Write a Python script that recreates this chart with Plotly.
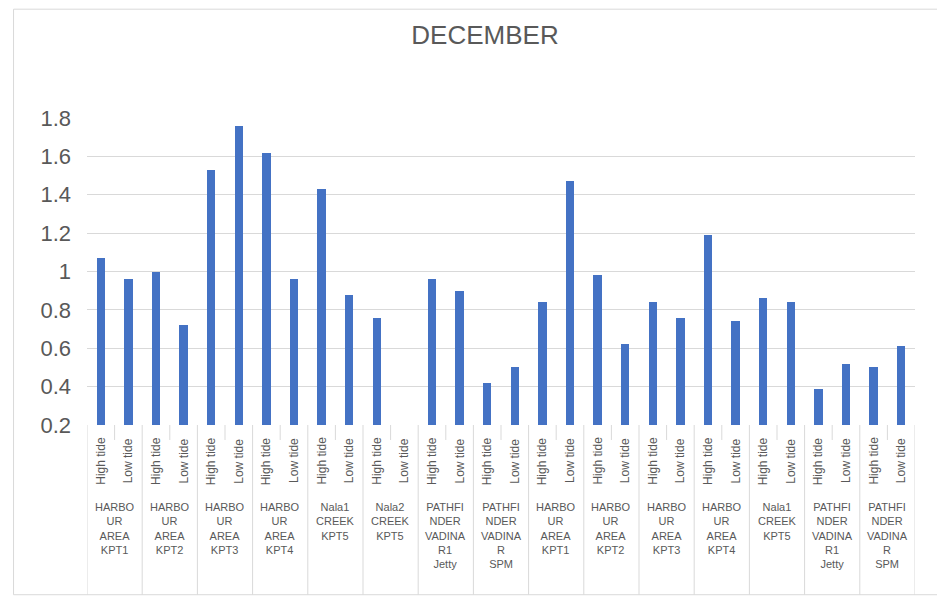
import plotly.graph_objects as go

groups = [
    "HARBO<br>UR<br>AREA<br>KPT1", "HARBO<br>UR<br>AREA<br>KPT2", "HARBO<br>UR<br>AREA<br>KPT3",
    "HARBO<br>UR<br>AREA<br>KPT4", "Nala1<br>CREEK<br>KPT5", "Nala2<br>CREEK<br>KPT5",
    "PATHFI<br>NDER<br>VADINA<br>R1<br>Jetty", "PATHFI<br>NDER<br>VADINA<br>R<br>SPM",
    "HARBO<br>UR<br>AREA<br>KPT1", "HARBO<br>UR<br>AREA<br>KPT2", "HARBO<br>UR<br>AREA<br>KPT3",
    "HARBO<br>UR<br>AREA<br>KPT4", "Nala1<br>CREEK<br>KPT5",
    "PATHFI<br>NDER<br>VADINA<br>R1<br>Jetty", "PATHFI<br>NDER<br>VADINA<br>R<br>SPM",
]
tides = ["High tide", "Low tide"]
high_tide = [1.07, 1.00, 1.53, 1.62, 1.43, 0.76, 0.96, 0.42, 0.84, 0.98, 0.84, 1.19, 0.86, 0.39, 0.50]
low_tide = [0.96, 0.72, 1.76, 0.96, 0.88, None, 0.90, 0.50, 1.47, 0.62, 0.76, 0.74, 0.84, 0.52, 0.61]

values = []
for h, l in zip(high_tide, low_tide):
    values += [h, l]
xs = list(range(len(values)))

GREY = "#595959"
LINE = "#D9D9D9"
FONT = "Liberation Sans"

# page has an 8px body margin; coordinates below are in page pixels
OFF = 8
FIG_W, FIG_H = 945 - OFF, 597 - OFF
PL, PR, PT, PB = 86.5, 915, 117.5, 425

fig = go.Figure(go.Bar(x=xs, y=values, width=0.3, marker_color="#4472C4",
                       marker_line_width=0, showlegend=False))

H = PB - PT
W = PR - PL
def py(pix):
    return (PB - pix) / H
def px(pix):
    return (pix - PL) / W

ann = []
shapes = []
for i, g in enumerate(groups):
    for j, t in enumerate(tides):
        ann.append(dict(x=2 * i + j, y=py(461), xref="x", yref="paper", text=t,
                        textangle=-90, showarrow=False, yanchor="middle",
                        font=dict(size=12, color=GREY, family=FONT)))
    ann.append(dict(x=2 * i + 0.5, y=py(499), xref="x", yref="paper", text=g,
                    showarrow=False, yanchor="top", align="center",
                    font=dict(size=11, color=GREY, family=FONT)))
for k in range(len(groups) + 1):
    shapes.append(dict(type="line", xref="x", yref="paper", x0=2 * k - 0.5, x1=2 * k - 0.5,
                       y0=0, y1=py(595), line=dict(color=LINE, width=1)))
for k in range(len(groups)):
    shapes.append(dict(type="line", xref="x", yref="paper", x0=2 * k + 0.5, x1=2 * k + 0.5,
                       y0=0, y1=py(440), line=dict(color=LINE, width=1)))

shapes.append(dict(type="rect", xref="paper", yref="paper",
                   x0=px(13), x1=px(940), y0=py(595), y1=py(8.5),
                   line=dict(color=LINE, width=1)))

fig.update_layout(
    width=FIG_W, height=FIG_H,
    margin=dict(l=PL - OFF, r=FIG_W - (PR - OFF), t=PT - OFF, b=FIG_H - (PB - OFF)),
    paper_bgcolor="white", plot_bgcolor="white",
    title=dict(text="DECEMBER", x=(485 - OFF) / FIG_W, xanchor="center",
               y=1 - (35 - OFF) / FIG_H, yanchor="middle",
               font=dict(size=26, color=GREY, family=FONT)),
    xaxis=dict(range=[-0.5, len(values) - 0.5], showticklabels=False, showgrid=False,
               zeroline=False, showline=False, ticks=""),
    yaxis=dict(range=[0.2, 1.8], dtick=0.2, tick0=0.2, showgrid=True, gridcolor=LINE,
               zeroline=False, showline=False, ticks="", ticklabelstandoff=15,
               tickfont=dict(size=22, color=GREY, family=FONT)),
    annotations=ann, shapes=shapes, bargap=0,
)
fig.write_html("out.html")
